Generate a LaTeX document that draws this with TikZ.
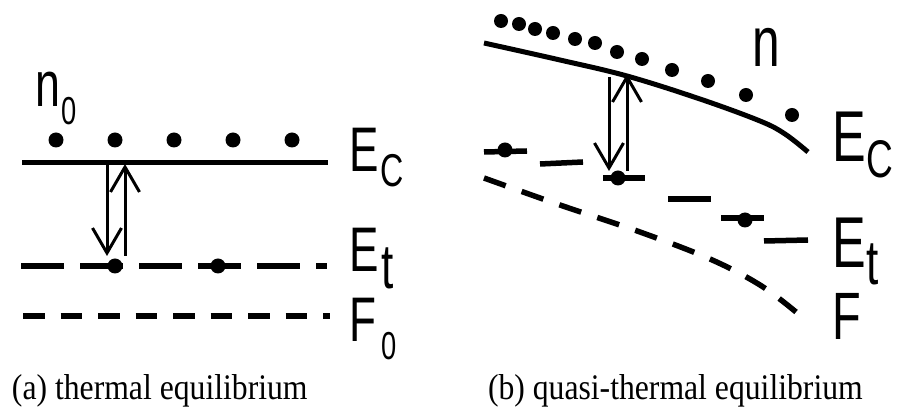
\documentclass[tikz,border=0pt]{standalone}
\usepackage{fontspec}
\setmainfont{Liberation Serif}
\newfontfamily\cond[FakeStretch=0.7]{Liberation Sans}
\newfontfamily\capfont[FakeStretch=0.88]{Liberation Serif}
\usetikzlibrary{arrows.meta}
\begin{document}
\begin{tikzpicture}[x=1pt,y=-1pt,
  dot/.style={circle,fill=black,inner sep=0pt,minimum size=15pt},
  band/.style={line width=5pt},
  trapline/.style={line width=5.5pt},
  fermi/.style={line width=5.5pt,dash pattern=on 21.7pt off 15.8pt},
  trans/.style={line width=3pt,-{Straight Barb[length=25pt,width=29pt,line width=3pt]}},
  lbl/.style={anchor=base west,inner sep=0pt,outer sep=0pt},
  captext/.style={anchor=base west,inner sep=0pt,outer sep=0pt,font=\capfont\fontsize{36}{40}\selectfont},
]
\useasboundingbox (0,0) rectangle (898,419);

% ---------------- (a) thermal equilibrium ----------------
\coordinate (ecA1) at (22,163);
\coordinate (ecA2) at (328,163);
\draw[band] (ecA1) -- (ecA2);

\coordinate (etA1) at (21,266);
\coordinate (etA2) at (327,266);
\draw[trapline,dash pattern=on 43pt off 16pt] (etA1) -- (etA2);

\coordinate (fA1) at (23,316);
\coordinate (fA2) at (330,316);
\draw[fermi] (fA1) -- (fA2);

\foreach \x [count=\i] in {56,115,174,233,292}
  \node[dot] (ndA\i) at (\x,140) {};

\node[dot] (tdA1) at (115,266) {};
\node[dot] (tdA2) at (218,266) {};

\coordinate (dnA1) at (107,165);
\coordinate (dnA2) at (107,256);
\coordinate (upA1) at (125,256);
\coordinate (upA2) at (125,164);
\draw[trans] (dnA1) -- (dnA2);
\draw[trans] (upA1) -- (upA2);

\node[lbl] (nA) at (35,107) {\cond\fontsize{64}{64}\selectfont n};
\node[lbl] (nAs) at (61,125) {\cond\fontsize{39}{39}\selectfont 0};
\node[lbl] (EcA) at (349,172) {\cond\fontsize{63}{63}\selectfont E};
\node[lbl] (EcAs) at (380,187) {\cond\fontsize{46}{46}\selectfont C};
\node[lbl] (EtA) at (349,272) {\cond\fontsize{63}{63}\selectfont E};
\node[lbl] (EtAs) at (381,289) {\cond\fontsize{63}{63}\selectfont t};
\node[lbl] (FA) at (349,342) {\cond\fontsize{63}{63}\selectfont F};
\node[lbl] (FAs) at (381,360) {\cond\fontsize{39}{39}\selectfont 0};

\node[captext] (capA) at (12,400) {(a) thermal equilibrium};

% ---------------- (b) quasi-thermal equilibrium ----------------
\draw[band] plot[smooth,tension=0.6] coordinates {(484,43) (560,60) (627,76) (700,99) (760,121) (785,134) (808,152)};

\draw[fermi,dash pattern=on 23pt off 17pt] plot[smooth,tension=0.6] coordinates {(484,178) (560,205) (640,232) (710,259) (760,285) (796,312)};

\coordinate (etB1a) at (484,152);  \coordinate (etB1b) at (527,151);
\coordinate (etB2a) at (540,164);  \coordinate (etB2b) at (583,162);
\coordinate (etB3a) at (603,178);  \coordinate (etB3b) at (645,178);
\coordinate (etB4a) at (668,199);  \coordinate (etB4b) at (711,199);
\coordinate (etB5a) at (721,218);  \coordinate (etB5b) at (764,218);
\coordinate (etB6a) at (764,241);  \coordinate (etB6b) at (808,240);
\draw[trapline] (etB1a) -- (etB1b);
\draw[trapline] (etB2a) -- (etB2b);
\draw[trapline] (etB3a) -- (etB3b);
\draw[trapline] (etB4a) -- (etB4b);
\draw[trapline] (etB5a) -- (etB5b);
\draw[trapline] (etB6a) -- (etB6b);

\node[dot] (tdB1) at (505,150) {};
\node[dot] (tdB2) at (618,178) {};
\node[dot] (tdB3) at (745,220) {};

\foreach \x/\y [count=\i] in {501/21, 519/24, 535/29, 553/33, 575/39, 595/43, 617/52, 642/59, 672/70, 708/81, 746/95, 792/115}
  \node[dot,minimum size=14pt] (ndB\i) at (\x,\y) {};

\coordinate (dnB1) at (609,77);
\coordinate (dnB2) at (609,171);
\coordinate (upB1) at (627,171);
\coordinate (upB2) at (627,74);
\draw[trans] (dnB1) -- (dnB2);
\draw[trans] (upB1) -- (upB2);

\node[lbl] (nB) at (752,67) {\cond\fontsize{71}{71}\selectfont n};
\node[lbl] (EcB) at (832,162) {\cond\fontsize{72}{72}\selectfont E};
\node[lbl] (EcBs) at (866,178) {\cond\fontsize{53}{53}\selectfont C};
\node[lbl] (EtB) at (832,268) {\cond\fontsize{72}{72}\selectfont E};
\node[lbl] (EtBs) at (866,285) {\cond\fontsize{63}{63}\selectfont t};
\node[lbl] (FB) at (832,340) {\cond\fontsize{67}{67}\selectfont F};

\node[captext] (capB) at (488,400) {(b) quasi-thermal equilibrium};
\end{tikzpicture}
\end{document}
